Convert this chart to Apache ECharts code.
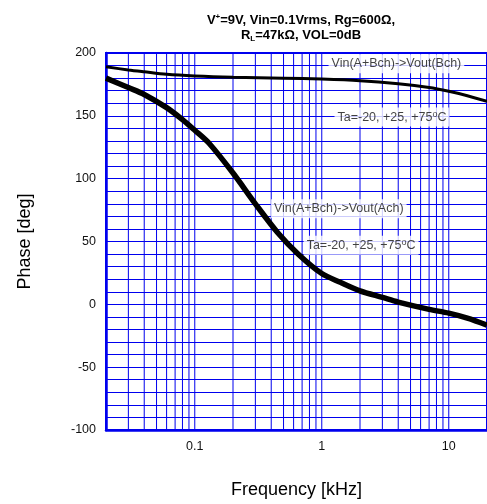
<!DOCTYPE html>
<html><head><meta charset="utf-8">
<script src="https://cdn.jsdelivr.net/npm/echarts@6/dist/echarts.min.js"></script>
<style>html,body{margin:0;padding:0;background:#fff}#c{width:487px;height:504px}</style>
</head><body><div id="c"></div>
<script>
// ---- data ----
const freqB  = [0.02, 0.03, 0.04, 0.06, 0.1, 0.2, 0.5, 1, 2, 4, 7, 10, 14, 20];
const phaseB = [189, 186.5, 185, 183, 181.7, 180.7, 180, 179.3, 178, 175.5, 172.5, 169.5, 166, 161.5];
const freqA  = [0.02, 0.03, 0.04, 0.06, 0.08, 0.1, 0.13, 0.2, 0.3, 0.45, 0.66, 1, 1.4, 2, 3, 4, 7, 10, 14, 20];
const phaseA = [180, 172.5, 167, 156.5, 147, 138.5, 128, 104.5, 80, 57, 39.5, 24.5, 17.5, 10.7, 5.5, 1.8, -4, -7, -11, -16.5];
const xGridValues = [0.03,0.04,0.05,0.06,0.07,0.08,0.09,0.1,0.2,0.3,0.4,0.5,0.6,0.7,0.8,0.9,1,2,3,4,5,6,7,8,9,10];
const xTickLabels = ['0.1', '1', '10'];
const yTickLabels = [-100, -50, 0, 50, 100, 150, 200];
const noteX = [3.87, 3.57, 1.36, 2.04];
const noteY = [191.5, 149, 76, 47];
const noteText = ['Vin(A+Bch)->Vout(Bch)', 'Ta=-20, +25, +75{s|o}C', 'Vin(A+Bch)->Vout(Ach)', 'Ta=-20, +25, +75{s|o}C'];

const FONT = '"Liberation Sans", Arial, sans-serif';
const BLUE = '#0000ee';
const yMin = yTickLabels[0], yMax = yTickLabels[yTickLabels.length - 1];
const vGridData = [];
xGridValues.forEach(v => { vGridData.push([v, yMin], [v, yMax], [v, '-']); });

const chart = echarts.init(document.getElementById('c'), null, {renderer: 'canvas'});
chart.setOption({
  animation: false,
  backgroundColor: '#fff',
  title: {
    left: 296, top: 8, textAlign: 'center',
    text: '{b|V}{p|+}{b|=9V, Vin=0.1Vrms, Rg=600Ω,}\n{b|R}{l|L}{b|=47kΩ, VOL=0dB}',
    textStyle: {
      fontFamily: FONT, fontWeight: 'bold', fontSize: 13, color: '#000', lineHeight: 15,
      rich: {
        b: {fontFamily: FONT, fontWeight: 'bold', fontSize: 13, color: '#000', lineHeight: 15},
        p: {fontFamily: FONT, fontWeight: 'bold', fontSize: 8, color: '#000', verticalAlign: 'top', lineHeight: 8},
        l: {fontFamily: FONT, fontWeight: 'bold', fontSize: 8, color: '#000', verticalAlign: 'bottom', lineHeight: 1}
      }
    }
  },
  grid: {left: 106, right: -2, top: 53, bottom: 67, show: true, borderColor: BLUE, borderWidth: 2, containLabel: false},
  xAxis: {
    type: 'log', logBase: 10, min: 0.02, max: 20,
    name: 'Frequency [kHz]', nameLocation: 'middle', nameGap: 51,
    nameTextStyle: {fontFamily: FONT, fontSize: 18, color: '#000'},
    axisLine: {show: true, onZero: false, lineStyle: {color: BLUE, width: 2.5}},
    axisTick: {show: false},
    splitLine: {show: false},
    axisLabel: {
      fontFamily: FONT, fontSize: 12.5, color: '#111', margin: 10,
      showMinLabel: false, showMaxLabel: false,
      formatter: v => { const s = String(+(+v).toPrecision(6)); return xTickLabels.includes(s) ? s : ''; }
    }
  },
  yAxis: {
    type: 'value', min: yMin, max: yMax, interval: 50,
    name: 'Phase [deg]', nameLocation: 'middle', nameGap: 72, nameRotate: 90,
    nameTextStyle: {fontFamily: FONT, fontSize: 18, color: '#000'},
    axisLine: {show: true, onZero: false, lineStyle: {color: BLUE, width: 2.5}},
    axisTick: {show: false},
    minorTick: {show: false, splitNumber: 5},
    splitLine: {show: true, lineStyle: {color: BLUE, width: 1}},
    minorSplitLine: {show: true, lineStyle: {color: BLUE, width: 1}},
    axisLabel: {fontFamily: FONT, fontSize: 12.5, color: '#111', margin: 10}
  },
  series: [
    {
      type: 'line', name: 'vgrid', data: vGridData, silent: true, z: 1,
      showSymbol: false, connectNulls: false,
      lineStyle: {color: BLUE, width: 1}, itemStyle: {color: BLUE},
      emphasis: {disabled: true}
    },
    {
      type: 'line', name: 'Bch', data: freqB.map((f, i) => [f, phaseB[i]]),
      showSymbol: false, smooth: 0.3, z: 5,
      lineStyle: {color: '#000', width: 3}
    },
    {
      type: 'line', name: 'Ach', data: freqA.map((f, i) => [f, phaseA[i]]),
      showSymbol: false, smooth: 0.3, z: 5,
      lineStyle: {color: '#000', width: 5.5}
    },
    {
      type: 'scatter', name: 'notes', symbolSize: 0, z: 10, silent: true,
      data: noteX.map((x, i) => ({value: [x, noteY[i]], label: {formatter: noteText[i]}})),
      label: {
        show: true, position: 'inside', backgroundColor: '#fff', padding: [2, 3],
        fontFamily: FONT, fontSize: 12.5, color: '#111', lineHeight: 15,
        rich: {s: {fontFamily: FONT, fontSize: 9, color: '#111', verticalAlign: 'top', lineHeight: 9}}
      }
    }
  ]
});
</script></body></html>
